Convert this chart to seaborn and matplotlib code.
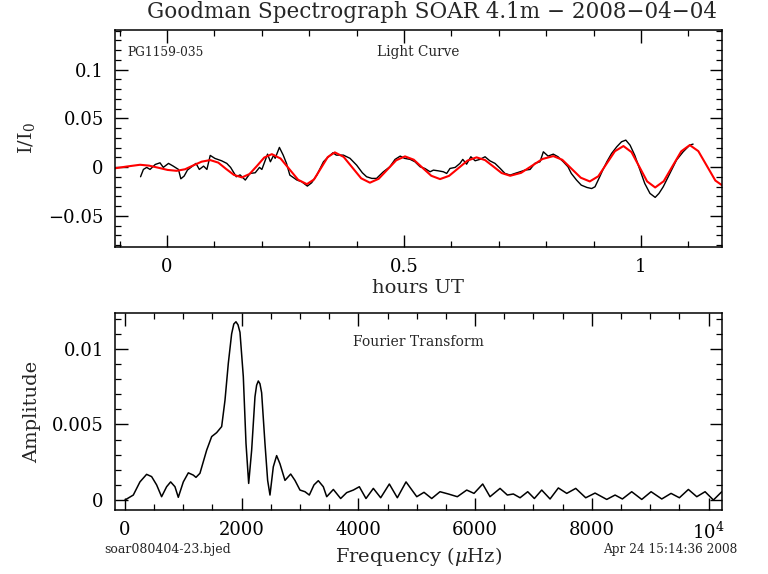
import matplotlib
matplotlib.use("Agg")
import matplotlib.pyplot as plt
import seaborn as sns
import pandas as pd
from matplotlib.ticker import MultipleLocator, FixedLocator

# ---------------- data ----------------
black_h = [-0.056, -0.050, -0.043, -0.036, -0.025, -0.015, -0.008, 0.003, 0.013, 0.024,
           0.029, 0.036, 0.043, 0.052, 0.061, 0.068, 0.077, 0.084, 0.091, 0.101,
           0.115, 0.126, 0.134, 0.146, 0.154, 0.165, 0.175, 0.186, 0.195, 0.200,
           0.212, 0.218, 0.225, 0.228, 0.237, 0.245, 0.252, 0.259, 0.274, 0.284,
           0.296, 0.305, 0.316, 0.330, 0.337, 0.350, 0.357, 0.372, 0.386, 0.400,
           0.412, 0.421, 0.432, 0.442, 0.456, 0.470, 0.481, 0.492, 0.501, 0.513,
           0.523, 0.534, 0.544, 0.555, 0.562, 0.572, 0.583, 0.590, 0.597, 0.608,
           0.618, 0.624, 0.632, 0.641, 0.650, 0.660, 0.671, 0.681, 0.692, 0.703,
           0.713, 0.724, 0.734, 0.745, 0.755, 0.766, 0.776, 0.787, 0.794, 0.804,
           0.815, 0.825, 0.836, 0.846, 0.853, 0.864, 0.874, 0.886, 0.896, 0.903,
           0.913, 0.920, 0.928, 0.938, 0.949, 0.959, 0.968, 0.977, 0.987, 0.998,
           1.008, 1.019, 1.030, 1.038, 1.047, 1.061, 1.075, 1.089, 1.103, 1.110]
black_v = [-0.0099, -0.0024, -0.0003, -0.0024, 0.0027, 0.0044, -0.0003, 0.0038, 0.0010, -0.0024,
           -0.0120, -0.0092, -0.0030, 0.0004, 0.0038, -0.0024, 0.0010, -0.0024, 0.0120, 0.0089,
           0.0065, 0.0038, -0.0003, -0.0099, -0.0080, -0.0133, -0.0065, -0.0058, -0.0003, -0.0024,
           0.0133, 0.0055, 0.0123, 0.0090, 0.0202, 0.0123, 0.0038, -0.0082, -0.0133, -0.0150,
           -0.0195, -0.0161, -0.0082, 0.0055, 0.0090, 0.0147, 0.0123, 0.0123, 0.0090, 0.0020,
           -0.0058, -0.0099, -0.0116, -0.0116, -0.0050, 0.0003, 0.0079, 0.0113, 0.0090, 0.0079,
           0.0055, 0.0003, -0.0014, -0.0048, -0.0031, -0.0038, -0.0048, -0.0065, -0.0014, -0.0003,
           0.0038, 0.0079, 0.0030, 0.0106, 0.0065, 0.0079, 0.0106, 0.0065, 0.0038, -0.0014,
           -0.0065, -0.0082, -0.0065, -0.0048, -0.0031, -0.0024, 0.0038, 0.0055, 0.0157, 0.0113,
           0.0133, 0.0106, 0.0055, 0.0003, -0.0065, -0.0133, -0.0185, -0.0209, -0.0220, -0.0202,
           -0.0099, -0.0024, 0.0055, 0.0140, 0.0209, 0.0260, 0.0277, 0.0225, 0.0120, -0.0031,
           -0.0168, -0.0270, -0.0311, -0.0270, -0.0202, -0.0065, 0.0072, 0.0157, 0.0226, 0.0236]

red_h = [-0.11, -0.085, -0.057,
         -0.038, -0.018, 0.001, 0.020,
         0.038, 0.055, 0.073, 0.091,
         0.108, 0.124, 0.141, 0.158,
         0.174, 0.190, 0.205, 0.221,
         0.2395, 0.258, 0.2765, 0.295,
         0.310, 0.3245, 0.339, 0.354,
         0.3725, 0.391, 0.4095, 0.428,
         0.4465, 0.465, 0.4835, 0.502,
         0.5205, 0.539, 0.5575, 0.576,
         0.595, 0.6145, 0.634, 0.653,
         0.671, 0.6885, 0.706, 0.724,
         0.747, 0.7695, 0.792, 0.815,
         0.834, 0.8535, 0.873, 0.892,
         0.910, 0.9275, 0.945, 0.963,
         0.980, 0.9965, 1.013, 1.030,
         1.048, 1.0665, 1.085, 1.103,
         1.121, 1.139, 1.157, 1.175]
red_v = [-0.0012, 0.0006, 0.0024,
         0.0015, -0.0007, -0.0029, -0.0038,
         -0.0022, 0.0017, 0.0056, 0.0072,
         0.0046, -0.0017, -0.0080, -0.0106,
         -0.0071, 0.0014, 0.0098, 0.0133,
         0.0088, -0.0021, -0.0130, -0.0175,
         -0.0127, -0.0012, 0.0103, 0.0151,
         0.0105, -0.0005, -0.0115, -0.0160,
         -0.0120, -0.0025, 0.0070, 0.0110,
         0.0076, -0.0007, -0.0089, -0.0123,
         -0.0090, -0.0012, 0.0067, 0.0100,
         0.0072, 0.0006, -0.0061, -0.0089,
         -0.0059, 0.0012, 0.0083, 0.0113,
         0.0075, -0.0017, -0.0109, -0.0147,
         -0.0094, 0.0035, 0.0163, 0.0216,
         0.0154, 0.0004, -0.0147, -0.0209,
         -0.0145, 0.0009, 0.0162, 0.0226,
         0.0164, 0.0013, -0.0138, -0.0200]

ft_freq = [0, 143, 257, 371, 457, 543, 628, 714, 783, 857,
           914, 1000, 1086, 1171, 1217, 1285, 1400, 1486, 1571, 1657,
           1714, 1771, 1828, 1865, 1902, 1937, 1971, 2028, 2074, 2120, 2171, 2228,
           2256, 2285, 2313, 2342, 2399, 2445, 2485, 2542, 2599, 2656, 2742, 2840,
           2913, 2999, 3085, 3159, 3239, 3313, 3399, 3457, 3571, 3696,
           3799, 3913, 4016, 4130, 4256, 4382, 4530, 4667, 4816, 5000,
           5124, 5256, 5398, 5541, 5695, 5856, 5981, 6130, 6255, 6427,
           6552, 6655, 6770, 6901, 7015, 7141, 7284, 7426, 7570, 7724,
           7895, 8055, 8255, 8398, 8523, 8683, 8855, 9015, 9198, 9357,
           9500, 9654, 9798, 9940, 10083, 10226]
ft_amp = [0, 0.00033, 0.0012, 0.0017, 0.00155, 0.001, 0.00022, 0.00088, 0.0012, 0.00088,
          0.00018, 0.0012, 0.0018, 0.00165, 0.0015, 0.00177, 0.0033, 0.0042, 0.00446, 0.00486,
          0.0066, 0.00905, 0.011, 0.01165, 0.0118, 0.0116, 0.0111, 0.00817, 0.00375, 0.0011, 0.0033, 0.00684,
          0.0076, 0.00788, 0.0077, 0.0071, 0.00375, 0.0013, 0.00033, 0.0022, 0.00294, 0.0024, 0.0013, 0.00172,
          0.0013, 0.00066, 0.00055, 0.00033, 0.001, 0.00128, 0.00088, 0.00022, 0.0007, 0.0001,
          0.00049, 0.00066, 0.00088, 0.0001, 0.00077, 0.00015, 0.00106, 0.00015, 0.0012, 0.00022,
          0.00051, 0.0001, 0.00055, 0.0004, 0.00022, 0.00066, 0.00044, 0.00106, 0.00022, 0.00077,
          0.00033, 0.0004, 0.00015, 0.00055, 0.0001, 0.00066, 0.00007, 0.0008, 0.00044, 0.00077,
          0.00015, 0.00046, 0.00004, 0.00033, 0.00007, 0.00055, 0.00004, 0.00055, 0.00007, 0.00044,
          0.00015, 0.0007, 0.00022, 0.00055, 0.0, 0.00055]

lc_yticks = [-0.05, 0, 0.05, 0.1]
lc_yticklabels = ["\u22120.05", "0", "0.05", "0.1"]
lc_xticks = [0, 0.5, 1]
lc_xticklabels = ["0", "0.5", "1"]
ft_xticks = [0, 2000, 4000, 6000, 8000, 10000]
ft_xticklabels = ["0", "2000", "4000", "6000", "8000", r"$10^4$"]
ft_yticks = [0, 0.005, 0.01]
ft_yticklabels = ["0", "0.005", "0.01"]

title = "Goodman Spectrograph SOAR 4.1m \u2212 2008\u221204\u221204"

# ---------------- style ----------------
sns.set_theme(style="ticks")
plt.rcParams["font.family"] = ["DejaVu Serif"]
plt.rcParams["mathtext.fontset"] = "dejavuserif"
plt.rcParams["axes.linewidth"] = 1.1

fig = plt.figure(figsize=(7.68, 5.74), dpi=100)
fig.patch.set_facecolor("white")
ax1 = fig.add_axes([0.1497, 0.5697, 0.7904, 0.378])
ax2 = fig.add_axes([0.1497, 0.1115, 0.7904, 0.3432])

lc_obs = pd.DataFrame({"hours": black_h, "flux": black_v})
lc_fit = pd.DataFrame({"hours": red_h, "flux": red_v})
ft = pd.DataFrame({"freq": ft_freq, "amp": ft_amp})

sns.lineplot(data=lc_obs, x="hours", y="flux", ax=ax1, color="black", lw=1.0,
             sort=False, estimator=None)
sns.lineplot(data=lc_fit, x="hours", y="flux", ax=ax1, color="#ff0000", lw=1.5,
             sort=False, estimator=None)
sns.lineplot(data=ft, x="freq", y="amp", ax=ax2, color="black", lw=1.1,
             sort=False, estimator=None)

for ax in (ax1, ax2):
    ax.set_facecolor("white")
    for s in ax.spines.values():
        s.set_visible(True)
        s.set_color("black")
    ax.tick_params(which="both", direction="in", top=True, right=True,
                   colors="black", labelsize=13, pad=8)
    ax.tick_params(which="major", length=9, width=1.0)
    ax.tick_params(which="minor", length=4.5, width=0.9)

ax1.set_xlim(-0.11, 1.171)
ax1.set_ylim(-0.082, 0.1407)
ax1.xaxis.set_major_locator(FixedLocator(lc_xticks))
ax1.set_xticklabels(lc_xticklabels)
ax1.xaxis.set_minor_locator(MultipleLocator(0.1))
ax1.yaxis.set_major_locator(FixedLocator(lc_yticks))
ax1.set_yticklabels(lc_yticklabels)
ax1.yaxis.set_minor_locator(MultipleLocator(0.01))
ax1.set_xlabel("hours UT", fontsize=14, labelpad=2)
ax1.set_ylabel(r"I/I$_0$", fontsize=14, labelpad=8)

ax2.set_xlim(-171, 10230)
ax2.set_ylim(-0.00066, 0.01238)
ax2.xaxis.set_major_locator(FixedLocator(ft_xticks))
ax2.set_xticklabels(ft_xticklabels)
ax2.xaxis.set_minor_locator(MultipleLocator(500))
ax2.yaxis.set_major_locator(FixedLocator(ft_yticks))
ax2.set_yticklabels(ft_yticklabels)
ax2.yaxis.set_minor_locator(MultipleLocator(0.001))
ax2.set_xlabel(r"Frequency ($\mu$Hz)", fontsize=14, labelpad=2)
ax2.set_ylabel("Amplitude", fontsize=14, labelpad=8)

fig.text(432 / 768, 1 - 12 / 574, title, ha="center", va="center", fontsize=15.5)
ax1.text(127 / 768, 1 - 52 / 574, "PG1159-035", transform=fig.transFigure,
         ha="left", va="center", fontsize=8.8)
ax1.text(418 / 768, 1 - 52 / 574, "Light Curve", transform=fig.transFigure,
         ha="center", va="center", fontsize=9.8)
ax2.text(418 / 768, 1 - 342 / 574, "Fourier Transform", transform=fig.transFigure,
         ha="center", va="center", fontsize=10)
fig.text(104 / 768, 1 - 550 / 574, "soar080404-23.bjed", ha="left", va="center", fontsize=9)
fig.text(737 / 768, 1 - 550 / 574, "Apr 24 15:14:36 2008", ha="right", va="center", fontsize=8.7)

fig.savefig("out.png", dpi=100, facecolor="white")
